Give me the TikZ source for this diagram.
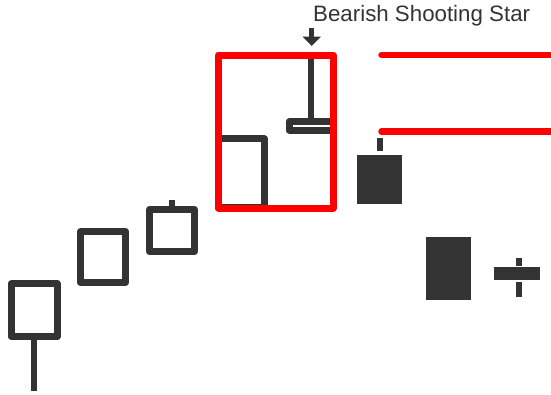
\documentclass[tikz,border=0pt]{standalone}
\usepackage{fontspec}
\setmainfont{Liberation Sans}
\usepackage{tikz}
\usetikzlibrary{positioning,arrows.meta}
\definecolor{cdl}{HTML}{333333}
\definecolor{hot}{HTML}{FF0000}
\tikzset{wcdl/.style={rectangle,draw=cdl,line width=7pt,inner sep=0pt,line join=round},
	 bcdl/.style={rectangle,fill=cdl,inner sep=0pt},
	 rbox/.style={rectangle,draw=hot,line width=7pt,inner sep=0pt,line join=round},
	 wick/.style={draw=cdl,line width=6pt},
	 rline/.style={draw=hot,line width=6.5pt,line cap=round}
	 }
\begin{document}
\begin{tikzpicture}[x=1pt,y=-1pt] % shooting star after an up trend
	\useasboundingbox (0,0) rectangle (551,394);
	\node[wcdl,minimum width=46pt,minimum height=53pt] (c1) at (34,310.2) {};
	\node[wcdl,minimum width=45pt,minimum height=51pt] (c2) at (103,257) {};
	\node[wcdl,minimum width=45pt,minimum height=42pt] (c3) at (172,230.5) {};
	\node[wcdl,minimum width=46pt,minimum height=69pt] (c4) at (241.2,173.4) {};
	\node[wcdl,minimum width=44pt,minimum height=8.5pt] (star) at (311,125.8) {};
	\node[bcdl,minimum width=45.6pt,minimum height=49pt] (d1) at (379.5,179.5) {};
	\node[bcdl,minimum width=45.3pt,minimum height=63.3pt] (d2) at (448.3,268.3) {};
	\node[bcdl,minimum width=45.7pt,minimum height=13.3pt] (dj) at (517.2,273.3) {};
	\coordinate (w1) at (34,391); \coordinate (w3) at (172,200); \coordinate (ws) at (311,56);
	\coordinate (wd) at (380,138); \coordinate (wd') at (380,151);
	\coordinate (wj) at (518.5,258.3); \coordinate (wj') at (518.5,282); \coordinate (wj'') at (518.5,296.7);
	\draw[wick] (c1.south) -- (w1); \draw[wick] (c3.north) -- (w3); \draw[wick] (star.north) -- (ws);
	\draw[wick] (wd) -- (wd'); \draw[wick] (wj) -- (wj |- dj.north); \draw[wick] (wj') -- (wj'');
	\node[rbox,minimum width=115pt,minimum height=153pt] (frame) at (275.8,131.5) {};
	\coordinate (r1) at (381.5,55); \coordinate (e1) at (560,55);
	\coordinate (r2) at (381.5,131.5); \coordinate (e2) at (560,131.5);
	\draw[rline] (r1) to (e1); \draw[rline] (r2) to (e2);
	\node[anchor=base west,inner sep=0pt,text=cdl,font=\fontsize{22.3}{26}\selectfont] (lbl) at (313,21.7) {Bearish Shooting Star};
	\coordinate (at) at (311.7,28.3); \coordinate (ah) at (311.7,46);
	\draw[cdl,line width=4.7pt,-{Triangle[width=18pt,length=9.5pt]}] (at) to (ah);
\end{tikzpicture}
\end{document}
